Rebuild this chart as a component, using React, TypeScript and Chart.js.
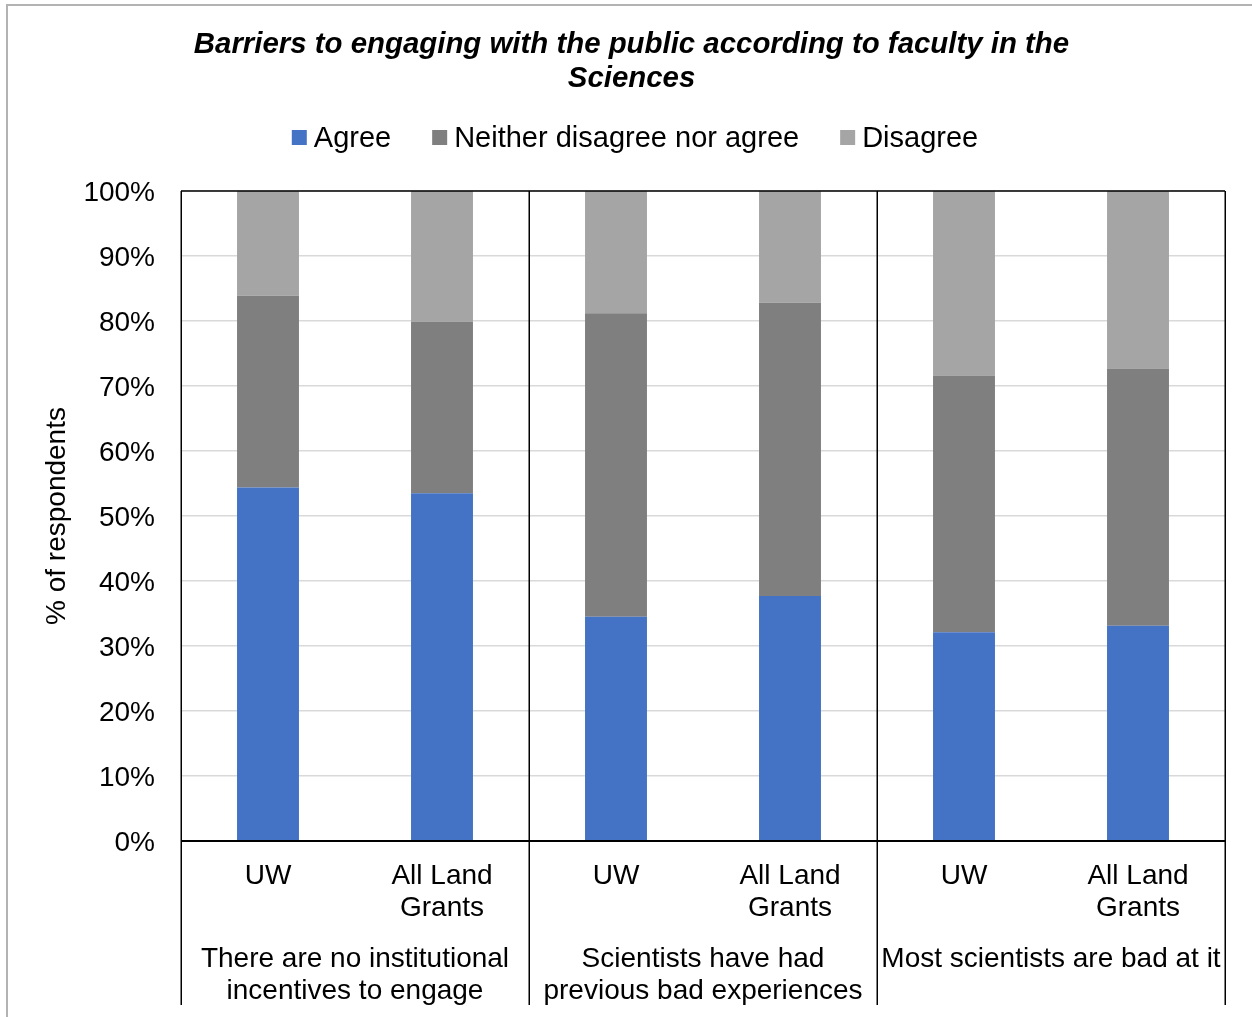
import React, { useEffect, useRef } from 'react';
import { Chart, registerables } from 'chart.js';

Chart.register(...registerables);

// Bar labels (one per bar) and the survey statements they sit under
const categories: (string | string[])[] = [
  'UW', ['All Land', 'Grants'],
  'UW', ['All Land', 'Grants'],
  'UW', ['All Land', 'Grants'],
];
const groups: string[][] = [
  ['There are no institutional', 'incentives to engage'],
  ['Scientists have had', 'previous bad experiences'],
  ['Most scientists are bad at it'],
];

// Share of respondents (%)
const agree = [54.4, 53.5, 34.5, 37.7, 32.1, 33.1];
const neither = [29.5, 26.4, 46.7, 45.1, 39.5, 39.6];
const disagree = [16.1, 20.1, 18.8, 17.2, 28.4, 27.3];

const seriesNames = ['Agree', 'Neither disagree nor agree', 'Disagree'];
const seriesColors = ['#4472C4', '#7F7F7F', '#A5A5A5'];

const yTickValues = [0, 10, 20, 30, 40, 50, 60, 70, 80, 90, 100];

const titleLines = ['Barriers to engaging with the public according to faculty in the', 'Sciences'];
const FONT = "'Liberation Sans', Arial, sans-serif";

const decorations = {
  id: 'decorations',
  beforeDraw(chart: any) {
    const { ctx } = chart;
    ctx.save();
    ctx.fillStyle = '#ffffff';
    ctx.fillRect(0, 0, chart.width, chart.height);
    // outer frame
    ctx.strokeStyle = '#b3b3b3';
    ctx.lineWidth = 2;
    ctx.beginPath();
    ctx.moveTo(7, chart.height + 5);
    ctx.lineTo(7, 5);
    ctx.lineTo(chart.width + 5, 5);
    ctx.stroke();
    ctx.restore();
  },
  afterDatasetsDraw(chart: any) {
    const { ctx, chartArea } = chart;
    const xs = chart.scales.x;
    const { left, right, top, bottom } = chartArea;
    const axisBottom = xs.bottom;
    ctx.save();
    ctx.strokeStyle = '#000000';
    ctx.lineCap = 'butt';

    // plot top and category axis
    ctx.lineWidth = 1.5;
    ctx.beginPath();
    ctx.moveTo(left, top);
    ctx.lineTo(right, top);
    ctx.stroke();
    ctx.lineWidth = 2;
    ctx.beginPath();
    ctx.moveTo(left, bottom);
    ctx.lineTo(right, bottom);
    ctx.stroke();

    // vertical dividers between statements, running down through the label area
    const dividers = [left];
    for (let g = 1; g < groups.length; g++) dividers.push(xs.getPixelForValue(g * 2 - 0.5));
    dividers.push(right);
    ctx.lineWidth = 1.5;
    dividers.forEach((x) => {
      ctx.beginPath();
      ctx.moveTo(Math.round(x) + 0.25, top);
      ctx.lineTo(Math.round(x) + 0.25, axisBottom);
      ctx.stroke();
    });

    // statement labels
    ctx.fillStyle = '#000000';
    ctx.font = `28px ${FONT}`;
    ctx.textAlign = 'center';
    ctx.textBaseline = 'middle';
    groups.forEach((lines, g) => {
      const cx = (dividers[g] + dividers[g + 1]) / 2;
      lines.forEach((line, i) => {
        ctx.fillText(line, cx, xs.top + 118 + i * 32);
      });
    });

    // legend
    ctx.font = `29px ${FONT}`;
    ctx.textAlign = 'left';
    const box = 15;
    const gapText = 7;
    const gapItem = 41;
    const widths = seriesNames.map((n) => ctx.measureText(n).width);
    const total = widths.reduce((s, w) => s + box + gapText + w, 0) + gapItem * (seriesNames.length - 1);
    let x = 635 - total / 2;
    const ly = 139;
    seriesNames.forEach((name, i) => {
      ctx.fillStyle = seriesColors[i];
      ctx.fillRect(x, ly - 9, box, box);
      ctx.fillStyle = '#000000';
      ctx.fillText(name, x + box + gapText, ly);
      x += box + gapText + widths[i] + gapItem;
    });
    ctx.restore();
  },
};

export default function App() {
  const canvasRef = useRef<HTMLCanvasElement | null>(null);

  useEffect(() => {
    if (!canvasRef.current) return;
    const chart = new Chart(canvasRef.current, {
      type: 'bar',
      data: {
        labels: categories,
        datasets: [
          { label: seriesNames[0], data: agree, backgroundColor: seriesColors[0] },
          { label: seriesNames[1], data: neither, backgroundColor: seriesColors[1] },
          { label: seriesNames[2], data: disagree, backgroundColor: seriesColors[2] },
        ],
      },
      options: {
        responsive: false,
        animation: false,
        devicePixelRatio: 1,
        datasets: { bar: { categoryPercentage: 1, barPercentage: 0.356, borderWidth: 0 } },
        layout: { padding: { left: 38, right: 27, top: 0, bottom: 12 } },
        plugins: {
          legend: { display: false },
          tooltip: { enabled: false },
          title: {
            display: true,
            text: titleLines,
            color: '#000000',
            font: { family: FONT, size: 29.4, weight: 'bold', style: 'italic', lineHeight: 34 / 29.4 },
            padding: { top: 28, bottom: 95 },
          },
        },
        scales: {
          x: {
            stacked: true,
            grid: { display: false, drawTicks: false },
            border: { display: false },
            ticks: {
              color: '#000000',
              font: { family: FONT, size: 28, lineHeight: 32 / 28 },
              padding: 19,
              maxRotation: 0,
              autoSkip: false,
            },
            afterFit(scale: any) {
              scale.height = 164;
            },
          },
          y: {
            stacked: true,
            min: 0,
            max: 100,
            afterBuildTicks(scale: any) {
              scale.ticks = yTickValues.map((v) => ({ value: v }));
            },
            grid: { color: '#d9d9d9', lineWidth: 1.5, drawTicks: false },
            border: { display: false },
            ticks: {
              color: '#000000',
              font: { family: FONT, size: 28 },
              padding: 26,
              labelOffset: 2,
              callback: (v: any) => `${v}%`,
            },
            title: {
              display: true,
              text: '% of respondents',
              color: '#000000',
              font: { family: FONT, size: 28 },
              padding: { top: 2, bottom: 0 },
            },
            afterFit(scale: any) {
              scale.width = 143;
            },
          },
        },
      },
      plugins: [decorations],
    });
    return () => chart.destroy();
  }, []);

  return (
    <div style={{ position: 'fixed', left: 0, top: 0, width: 1252, height: 1017, background: '#fff' }}>
      <canvas ref={canvasRef} width={1252} height={1017} style={{ display: 'block' }} />
    </div>
  );
}
